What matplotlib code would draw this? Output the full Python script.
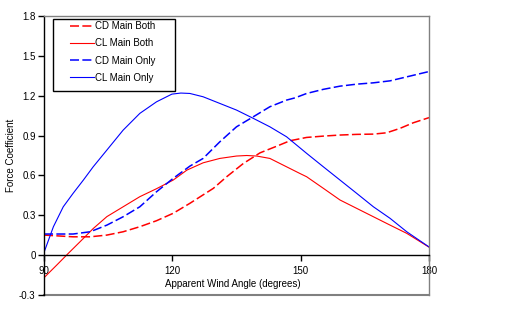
import matplotlib
matplotlib.use("Agg")
import matplotlib.pyplot as plt
from matplotlib.patches import Rectangle

plt.rcParams['font.family'] = ['Liberation Sans', 'DejaVu Sans']
plt.rcParams['lines.scale_dashes'] = False

# Apparent wind angle (degrees) and force coefficients
cd_both_x = [90, 96.8, 100.8, 104.7, 108.5, 112.4, 116.3, 120.2, 124.1, 129.6, 132.7,
             136.6, 140.5, 144.4, 147.5, 151.4, 155.3, 159.2, 163.1, 167.0, 170.1,
             173.2, 176.3, 180]
cd_both_y = [0.151, 0.138, 0.138, 0.151, 0.176, 0.214, 0.259, 0.315, 0.39, 0.503, 0.59,
             0.69, 0.77, 0.82, 0.861, 0.886, 0.896, 0.904, 0.909, 0.911, 0.921,
             0.954, 0.996, 1.035]

cl_both_x = [90, 93.0, 95.7, 98.4, 101.5, 104.7, 108.5, 112.4, 116.3, 120.2, 123.4,
             127.2, 131.1, 135.0, 137.4, 139.7, 142.8, 146.7, 149.8, 151.4, 155.3,
             159.2, 163.1, 167.0, 170.9, 174.8, 180]
cl_both_y = [-0.17, -0.074, 0.014, 0.10, 0.20, 0.29, 0.364, 0.44, 0.50, 0.565, 0.64,
             0.695, 0.728, 0.746, 0.75, 0.746, 0.728, 0.665, 0.615, 0.59, 0.503,
             0.415, 0.352, 0.289, 0.226, 0.164, 0.06]

cd_only_x = [90, 96.8, 100.8, 104.7, 108.5, 112.4, 116.3, 120.2, 124.1, 127.2, 131.1,
             135.0, 138.9, 142.8, 146.7, 148.7, 151.4, 155.3, 159.2, 163.1, 167.0,
             170.9, 174.8, 180]
cd_only_y = [0.159, 0.159, 0.176, 0.226, 0.289, 0.364, 0.477, 0.578, 0.67, 0.728, 0.853,
             0.966, 1.041, 1.117, 1.167, 1.184, 1.217, 1.248, 1.272, 1.287, 1.297,
             1.312, 1.342, 1.382]

cl_only_x = [90, 92.2, 94.5, 96.8, 99.2, 101.5, 104.7, 108.5, 112.4, 116.3, 119.9,
             122.0, 124.1, 127.2, 131.1, 135.0, 138.9, 142.8, 146.7, 151.4, 155.3,
             159.2, 163.1, 167.0, 170.9, 174.8, 180]
cl_only_y = [0.02, 0.214, 0.364, 0.465, 0.565, 0.665, 0.791, 0.941, 1.067, 1.154, 1.212,
             1.22, 1.217, 1.192, 1.142, 1.092, 1.03, 0.966, 0.891, 0.766, 0.665,
             0.565, 0.465, 0.364, 0.277, 0.176, 0.062]

x_ticks = [90, 120, 150, 180]
y_ticks = [-0.3, 0, 0.3, 0.6, 0.9, 1.2, 1.5, 1.8]
y_tick_labels = ["-0.3", "0", "0.3", "0.6", "0.9", "1.2", "1.5", "1.8"]

W, H = 510, 325
fig = plt.figure(figsize=(W / 100, H / 100), dpi=100)
left, right, top, bottom = 44, 429, 16, 295
ax = fig.add_axes([left / W, (H - bottom) / H, (right - left) / W, (bottom - top) / H])

dash = (0, (6.5, 2.4))
ax.plot(cd_both_x, cd_both_y, color='#ff0000', lw=1.1, linestyle=dash, label='CD Main Both')
ax.plot(cl_both_x, cl_both_y, color='#ff0000', lw=0.8, label='CL Main Both')
ax.plot(cd_only_x, cd_only_y, color='#0000ff', lw=1.1, linestyle=dash, label='CD Main Only')
ax.plot(cl_only_x, cl_only_y, color='#0000ff', lw=0.8, label='CL Main Only')

ax.set_xlim(90, 180)
ax.set_ylim(-0.3, 1.8)

# Frame: grey outer box, black value axis and black zero line
for s in ['top', 'right']:
    ax.spines[s].set_color('#808080')
    ax.spines[s].set_linewidth(1.0)
ax.spines['left'].set_color('black')
ax.spines['left'].set_linewidth(1.0)
ax.spines['bottom'].set_position(('data', 0))
ax.spines['bottom'].set_color('black')
ax.spines['bottom'].set_linewidth(1.0)
ax.axhline(-0.3, color='#808080', lw=1.5, clip_on=False, zorder=0.5)

ax.set_xticks(x_ticks)
ax.set_xticklabels([str(t) for t in x_ticks], fontsize=7)
ax.set_yticks(y_ticks)
ax.set_yticklabels(y_tick_labels, fontsize=7)
ax.tick_params(axis='x', direction='out', length=4, width=1, pad=4)
ax.tick_params(axis='y', direction='out', length=4, width=1, pad=2)

ax.set_xlabel('Apparent Wind Angle (degrees)', fontsize=7)
ax.xaxis.set_label_coords(0.49, 0.02, transform=ax.transAxes)
ax.xaxis.label.set_va('bottom')
ax.set_ylabel('Force Coefficient', fontsize=7)
ax.yaxis.set_label_coords(-0.087, 0.5)
ax.yaxis.label.set_va('center')

# Legend box
ax.add_patch(Rectangle(((53 - left) / (right - left), 1 - (91 - top) / (bottom - top)),
                       (175 - 53) / (right - left), (91 - 19) / (bottom - top),
                       transform=ax.transAxes, fill=True, facecolor='white',
                       edgecolor='black', lw=1.0, zorder=3))
leg = ax.legend(loc='upper left', frameon=False, fontsize=7,
                bbox_to_anchor=((72 - left) / (right - left) - 0.005, 1 - (21 - top) / (bottom - top)),
                borderaxespad=0, borderpad=0, handlelength=2.45, handletextpad=0.1,
                labelspacing=0.75)
leg.set_zorder(4)

fig.savefig('out.png', dpi=100)
